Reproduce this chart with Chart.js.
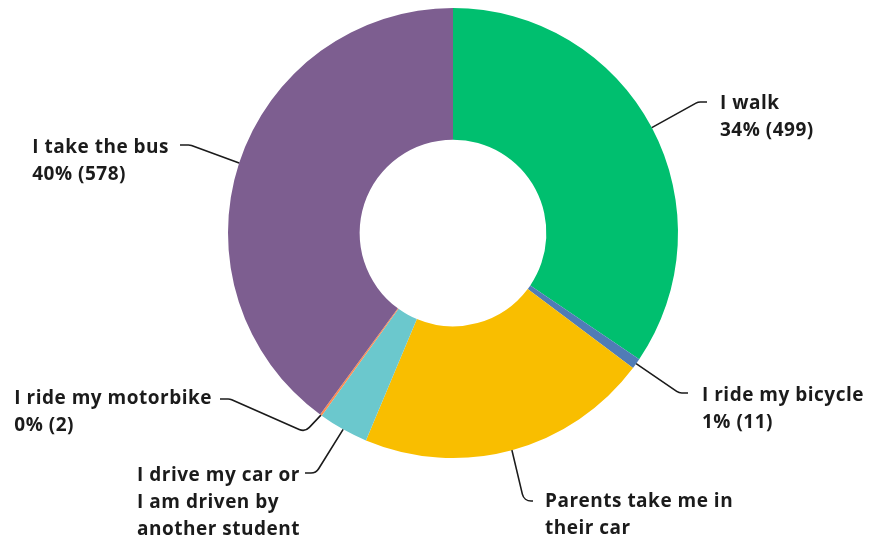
<!DOCTYPE html>
<html>
<head>
<meta charset="utf-8">
<script src="https://cdn.jsdelivr.net/npm/chart.js@4/dist/chart.umd.min.js"></script>
<style>
  html, body { margin: 0; padding: 0; background: #fff; }
  #wrap { width: 874px; height: 543px; position: relative; }
</style>
</head>
<body>
<div id="wrap"><canvas id="chart"></canvas></div>
<script>
// answers and response counts
const answers = [
  "I walk",
  "I ride my bicycle",
  "Parents take me in their car",
  "I drive my car or I am driven by another student",
  "I ride my motorbike",
  "I take the bus",
];
const counts = [499, 11, 305, 52, 2, 578];
const sliceColors = ["#00bf6f", "#507cb6", "#f9be00", "#6bc8cd", "#ff8b4f", "#7d5e90"];

// text printed beside each slice
const labelLines = [
  ["I walk", "34% (499)"],
  ["I ride my bicycle", "1% (11)"],
  ["Parents take me in", "their car"],
  ["I drive my car or", "I am driven by", "another student"],
  ["I ride my motorbike", "0% (2)"],
  ["I take the bus", "40% (578)"],
];

// where each label block sits and how its leader line bends
const labelPlacement = [
  { side: "left",  x: 720, y: 109, path: [[698, 102], [707, 102]] },
  { side: "left",  x: 702, y: 401, path: [[679, 393], [688, 393]] },
  { side: "left",  x: 545, y: 507, path: [[524, 501], [533, 501]] },
  { side: "right", x: 300, y: 481, path: [[316, 473], [305, 473]] },
  { side: "right", x: 212, y: 404, path: [[305, 432], [230, 399], [220, 399]] },
  { side: "right", x: 169, y: 153, path: [[190, 145], [180, 145]] },
];

const LINE_H = 27;
const FONT = "bold 19px 'Open Sans', 'DejaVu Sans', sans-serif";

const leaderLabels = {
  id: "leaderLabels",
  afterDraw(chart) {
    const ctx = chart.ctx;
    const arcs = chart.getDatasetMeta(0).data;
    ctx.save();
    arcs.forEach((arc, i) => {
      const p = arc.getProps(["x", "y", "startAngle", "endAngle", "outerRadius"], true);
      const mid = (p.startAngle + p.endAngle) / 2;
      const sx = p.x + Math.cos(mid) * p.outerRadius;
      const sy = p.y + Math.sin(mid) * p.outerRadius;
      const place = labelPlacement[i];

      // leader line with rounded bends
      const pts = [[sx, sy]].concat(place.path);
      ctx.beginPath();
      ctx.moveTo(pts[0][0], pts[0][1]);
      for (let k = 1; k < pts.length - 1; k++) {
        ctx.arcTo(pts[k][0], pts[k][1], pts[k + 1][0], pts[k + 1][1], 9);
      }
      ctx.lineTo(pts[pts.length - 1][0], pts[pts.length - 1][1]);
      ctx.strokeStyle = "#1b1b1b";
      ctx.lineWidth = 1.6;
      ctx.stroke();

      // label text, block left-aligned
      ctx.font = FONT;
      ctx.letterSpacing = "0.5px";
      ctx.fillStyle = "#1b1b1b";
      ctx.textBaseline = "alphabetic";
      ctx.textAlign = "left";
      const lines = labelLines[i];
      let left = place.x;
      if (place.side === "right") {
        const w = Math.max(...lines.map(t => ctx.measureText(t).width));
        left = place.x - w;
      }
      lines.forEach((t, j) => ctx.fillText(t, left, place.y + j * LINE_H));
    });
    ctx.restore();
  }
};

new Chart(document.getElementById("chart"), {
  type: "doughnut",
  data: {
    labels: answers,
    datasets: [{
      data: counts,
      backgroundColor: sliceColors,
      borderWidth: 0,
    }],
  },
  options: {
    responsive: true,
    maintainAspectRatio: false,
    animation: false,
    cutout: "41.5%",
    layout: { padding: { top: 8, bottom: 85, left: 228, right: 196 } },
    plugins: {
      legend: { display: false },
      tooltip: { enabled: false },
    },
  },
  plugins: [leaderLabels],
});
</script>
</body>
</html>
